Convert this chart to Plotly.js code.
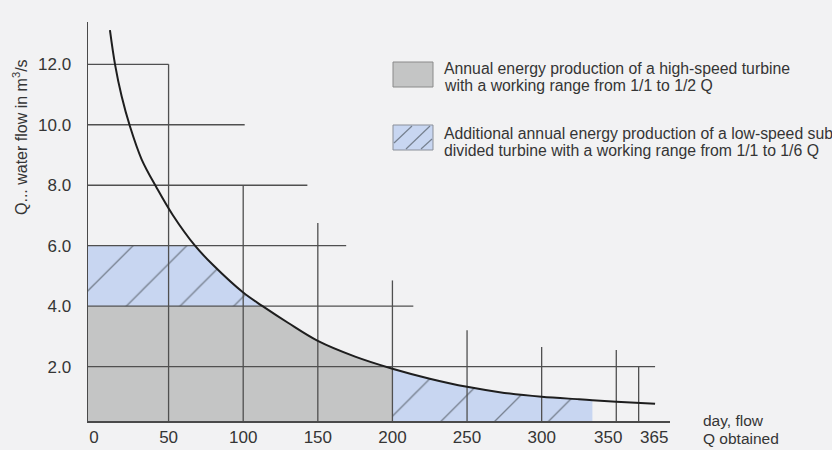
<!DOCTYPE html>
<html><head><meta charset="utf-8">
<script src="https://cdn.plot.ly/plotly-3.0.1.min.js"></script>
<style>html,body{margin:0;padding:0;background:#f2f2f3;} #chart{width:832px;height:450px;}</style>
</head><body><div id="chart"></div>
<script>
// ---- data ----
const dayX  = [10.7, 14.1, 18.5, 24.1, 32, 42, 53, 67.7, 80, 100, 113, 130, 150, 175, 200, 225, 250, 275, 300, 325, 334, 350, 376];
const flowQ = [13.13, 12.0, 10.95, 9.95, 8.85, 7.92, 7.0, 6.0, 5.35, 4.45, 4.0, 3.45, 2.85, 2.33, 1.93, 1.6, 1.33, 1.13, 1.0, 0.92, 0.89, 0.84, 0.77];

const xTickVals = [0, 50, 100, 150, 200, 250, 300, 350, 365];
const xTickText = ['0', '50', '100', '150', '200', '250', '300', '350', '365'];
const yTickVals = [2, 4, 6, 8, 10, 12];
const yTickText = ['2.0', '4.0', '6.0', '8.0', '10.0', '12.0'];

// reference lines of the diagram
const hLineY   = [12, 10, 8, 6, 4, 2];
const hLineEnd = [50, 101, 143, 169, 214, 376];
const vLineX   = [50, 100, 150, 200, 250, 300, 350, 365];
const vLineTop = [12, 8, 6.75, 4.85, 3.2, 2.65, 2.55, 2.0];

// working ranges
const highCap = 4.0;       // 1/1 .. 1/2 Q of the high-speed turbine
const lowTop = 6.0;        // upper limit of the first additional area
const highEndDay = 200;
const lowEndDay = 334;

const legendText1 = ['Annual energy production of a high-speed turbine', 'with a working range from 1/1 to 1/2 Q'];
const legendText2 = ['Additional annual energy production of a low-speed sub', 'divided turbine with a working range from 1/1 to 1/6 Q'];

// ---- layout geometry ----
const W = 832, H = 450;
const L = 88, R = 162, T = 22, B = 29;
const PW = W - L - R, PH = H - T - B;
const X0 = -4, Y0 = 0.2;
const px = x => (x - L) / PW;
const py = y => (H - B - y) / PH;

const FONT = 'Liberation Sans, Arial, sans-serif';
const TXT = '#353535';
const GRAY = '#c4c5c5';
const BLUE = '#c8d6f1';
const HATCH = '#76808f';
const GRID = '#505050';

// gray area: min(Q, highCap) up to highEndDay
const gX = [X0], gY = [highCap];
dayX.forEach((d, i) => { if (d <= highEndDay) { gX.push(d); gY.push(Math.min(flowQ[i], highCap)); } });

// blue area 1: between highCap and min(Q, lowTop)
const b1X = [X0], b1Y = [lowTop];
let crossDay = null;
dayX.forEach((d, i) => { if (flowQ[i] >= highCap) { b1X.push(d); b1Y.push(Math.min(flowQ[i], lowTop)); crossDay = d; } });
b1X.push(crossDay, X0); b1Y.push(highCap, highCap);

// blue area 2: under the curve from highEndDay to lowEndDay
const b2X = [], b2Y = [];
dayX.forEach((d, i) => { if (d >= highEndDay && d <= lowEndDay) { b2X.push(d); b2Y.push(flowQ[i]); } });

// reference lines
const lnX = [], lnY = [];
hLineY.forEach((y, i) => { lnX.push(X0, hLineEnd[i], null); lnY.push(y, y, null); });
vLineX.forEach((x, i) => { lnX.push(x, x, null); lnY.push(Y0, vLineTop[i], null); });

const pattern = {shape: '/', bgcolor: BLUE, fgcolor: HATCH, size: 38, solidity: 0.035, fillmode: 'replace'};

const traces = [
  {x: gX, y: gY, type: 'scatter', mode: 'lines', fill: 'tozeroy', fillcolor: GRAY, line: {width: 0, color: GRAY}, hoverinfo: 'skip', showlegend: false},
  {x: b1X, y: b1Y, type: 'scatter', mode: 'lines', fill: 'toself', fillcolor: BLUE, fillpattern: pattern, line: {width: 0, color: BLUE}, hoverinfo: 'skip', showlegend: false},
  {x: b2X, y: b2Y, type: 'scatter', mode: 'lines', fill: 'tozeroy', fillcolor: BLUE, fillpattern: pattern, line: {width: 0, color: BLUE}, hoverinfo: 'skip', showlegend: false},
  {x: lnX, y: lnY, type: 'scatter', mode: 'lines', line: {width: 1.3, color: GRID}, hoverinfo: 'skip', showlegend: false, connectgaps: false},
  {x: dayX, y: flowQ, type: 'scatter', mode: 'lines', line: {width: 2, color: '#1e1e1e', shape: 'spline', smoothing: 1}, showlegend: false}
];

// x tick labels: the last two are nudged apart as in the original
const nAxisTicks = 7;
const labelShift = {350: -8, 365: 15};

const ann = [];
for (let i = nAxisTicks; i < xTickVals.length; i++) {
  ann.push({xref: 'x', yref: 'paper', x: xTickVals[i], xshift: labelShift[xTickVals[i]], y: py(437), text: xTickText[i], showarrow: false,
            font: {family: FONT, size: 17, color: TXT}, xanchor: 'center', yanchor: 'middle'});
}
ann.push({xref: 'paper', yref: 'paper', x: px(20), y: py(137), text: 'Q... water flow in m<sup>3</sup>/s', textangle: -90, showarrow: false, font: {family: FONT, size: 16, color: TXT}, xanchor: 'center', yanchor: 'middle'});
ann.push({xref: 'paper', yref: 'paper', x: px(701), y: py(420), text: 'day, flow', showarrow: false, font: {family: FONT, size: 15.5, color: TXT}, xanchor: 'left', yanchor: 'middle'});
ann.push({xref: 'paper', yref: 'paper', x: px(701), y: py(438), text: 'Q obtained', showarrow: false, font: {family: FONT, size: 15.5, color: TXT}, xanchor: 'left', yanchor: 'middle'});
const legLines = [[legendText1[0], 68], [legendText1[1], 85], [legendText2[0], 133], [legendText2[1], 150]];
legLines.forEach(([t, y]) => ann.push({xref: 'paper', yref: 'paper', x: px(442), y: py(y), text: t, showarrow: false, font: {family: FONT, size: 15.8, color: TXT}, xanchor: 'left', yanchor: 'middle'}));

const shapes = [
  {type: 'rect', xref: 'paper', yref: 'paper', x0: px(393), x1: px(433), y0: py(87), y1: py(62), fillcolor: GRAY, line: {color: '#8a8a8a', width: 1}},
  {type: 'rect', xref: 'paper', yref: 'paper', x0: px(393), x1: px(433), y0: py(150), y1: py(125), fillcolor: BLUE, line: {color: '#8a8f99', width: 1}},
  {type: 'line', xref: 'paper', yref: 'paper', x0: px(394), y0: py(143), x1: px(412), y1: py(126), line: {color: HATCH, width: 1.2}},
  {type: 'line', xref: 'paper', yref: 'paper', x0: px(406), y0: py(149), x1: px(430), y1: py(126), line: {color: HATCH, width: 1.2}},
  {type: 'line', xref: 'paper', yref: 'paper', x0: px(421), y0: py(149), x1: px(432), y1: py(139), line: {color: HATCH, width: 1.2}}
];

const layout = {
  width: W, height: H,
  margin: {l: L, r: R, t: T, b: B, pad: 0},
  paper_bgcolor: '#f2f2f3', plot_bgcolor: '#f2f2f3',
  font: {family: FONT, color: TXT},
  xaxis: {range: [X0, 386], showgrid: false, zeroline: false, showline: true, linecolor: '#4a4a4a', linewidth: 1.5,
          tickvals: xTickVals.slice(0, nAxisTicks), ticktext: xTickText.slice(0, nAxisTicks), ticks: '', tickangle: 0,
          tickfont: {size: 17, color: TXT, family: FONT}, fixedrange: true},
  yaxis: {range: [Y0, 13.4], showgrid: false, zeroline: false, showline: true, linecolor: '#4a4a4a', linewidth: 1.5,
          tickvals: yTickVals, ticktext: yTickText, ticks: '', ticklabelstandoff: 12, tickfont: {size: 17, color: TXT, family: FONT}, fixedrange: true},
  annotations: ann,
  shapes: shapes,
  showlegend: false
};

Plotly.newPlot('chart', traces, layout, {displayModeBar: false, staticPlot: true});
</script>
</body></html>
